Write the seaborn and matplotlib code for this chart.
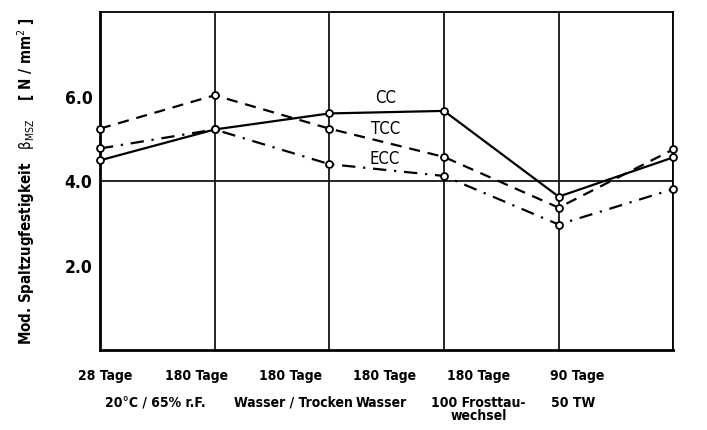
import numpy as np
import pandas as pd
import seaborn as sns
import matplotlib.pyplot as plt

# values
positions = [0, 1, 2, 3, 4, 5]
cc = [4.49, 5.22, 5.60, 5.66, 3.63, 4.56]
tcc = [5.24, 6.03, 5.24, 4.57, 3.37, 4.75]
ecc = [4.77, 5.22, 4.40, 4.12, 2.97, 3.81]
series_names = ['CC', 'TCC', 'ECC']
top_labels = ['28 Tage', '180 Tage', '180 Tage', '180 Tage', '180 Tage', '90 Tage']
bottom_labels = ['20°C / 65% r.F.', 'Wasser / Trocken', 'Wasser', '100 Frosttau-\nwechsel', '50 TW']
y_ticks = [2.0, 4.0, 6.0]

df = pd.DataFrame({
    'pos': positions * 3,
    'value': cc + tcc + ecc,
    'series': [s for s in series_names for _ in positions],
})

sns.set_style('white')
plt.rcParams['font.family'] = ['DejaVu Sans']
plt.rcParams['font.stretch'] = 'condensed'
plt.rcParams['text.color'] = 'black'
plt.rcParams['axes.labelcolor'] = 'black'
plt.rcParams['ytick.color'] = 'black'

fig = plt.figure(figsize=(7.07, 4.3), dpi=100)
ax = fig.add_axes([0.1414, 0.186, 0.811, 0.786])

# vertical column lines and the 4.0 reference line
for p in positions:
    ax.axvline(p, color='black', lw=1.2, zorder=1)
ax.axhline(4.0, color='black', lw=1.2, zorder=1)

sns.lineplot(data=df, x='pos', y='value', style='series', color='black',
             dashes={'CC': '', 'TCC': (5, 3.5), 'ECC': (6, 3.5, 1, 3.5)},
             markers={'CC': 'o', 'TCC': 'o', 'ECC': 'o'},
             markerfacecolor='white', markeredgecolor='black', markersize=5,
             markeredgewidth=1.3, lw=1.6, legend=False, ax=ax, clip_on=False, zorder=3)

ax.set_xlim(0, 5)
ax.set_ylim(0, 8)
ax.set_yticks(y_ticks)
ax.set_yticklabels([f'{v:.1f}' for v in y_ticks], fontsize=12.5, fontweight='bold')
ax.tick_params(axis='y', direction='inout', length=7, width=1.3, pad=2)
ax.set_xticks([])
ax.set_xlabel('')
ax.set_ylabel('Mod. Spaltzugfestigkeit   $\\mathrm{\\beta}_{\\mathrm{MSZ}}$    [ N / mm$^2$ ]',
              fontsize=10.8, fontweight='bold', labelpad=20)

for side in ['left', 'bottom']:
    ax.spines[side].set_linewidth(2.0)
for side in ['top', 'right']:
    ax.spines[side].set_linewidth(1.3)
for s in ax.spines.values():
    s.set_color('black')

# series labels
ax.text(0.48, 5.97, 'CC', fontsize=12, ha='left', va='center', transform=ax.get_yaxis_transform())
ax.text(0.472, 5.22, 'TCC', fontsize=12, ha='left', va='center', transform=ax.get_yaxis_transform())
ax.text(0.47, 4.52, 'ECC', fontsize=12, ha='left', va='center', transform=ax.get_yaxis_transform())

# two rows of category labels below the plot
top_x = [0.009, 0.168, 0.332, 0.496, 0.66, 0.832]
for xx, lab in zip(top_x, top_labels):
    ax.text(xx, -0.077, lab, transform=ax.transAxes, ha='center', va='center',
            fontsize=10, fontweight='bold')
bottom_x = [0.096, 0.337, 0.49, 0.66, 0.825]
for xx, lab in zip(bottom_x, bottom_labels):
    ax.text(xx, -0.135, lab, transform=ax.transAxes, ha='center', va='top',
            fontsize=10, fontweight='bold', linespacing=0.9)

fig.savefig('out.png', dpi=100)
